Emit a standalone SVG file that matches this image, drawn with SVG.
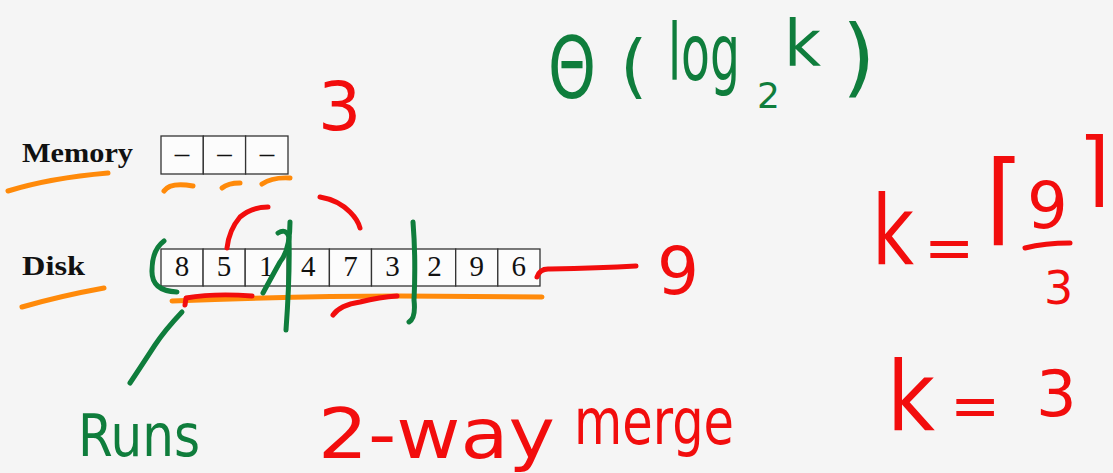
<svg xmlns="http://www.w3.org/2000/svg" width="1113" height="473" viewBox="0 0 1113 473">
  <style>
    .label { font-family: "Liberation Serif", "DejaVu Serif", serif; font-weight: bold; font-size: 28px; fill: #111; }
    .cell { fill: #fcfcfc; stroke: #333; stroke-width: 1.3; }
    .digit { font-family: "Liberation Serif", "DejaVu Serif", serif; font-size: 29px; fill: #111; text-anchor: middle; }
    .ink { fill: none; stroke-width: 5; stroke-linecap: round; stroke-linejoin: round; }
    .green { stroke: #0f7d3c; }
    .red { stroke: #f20d0d; }
    .orange { stroke: #ff8a0a; }
    .hand { font-family: "DejaVu Sans", "Liberation Sans", sans-serif; }
    .hg { fill: #0f7d3c; }
    .hr { fill: #f20d0d; }
  </style>
  <rect width="1113" height="473" fill="#f5f5f5"/>

  <!-- memory buffer -->
  <g id="memory">
    <text class="label" x="22" y="162" textLength="111" lengthAdjust="spacingAndGlyphs">Memory</text>
    <rect class="cell" x="161" y="136" width="42.3" height="38"/>
    <rect class="cell" x="203.3" y="136" width="42.3" height="38"/>
    <rect class="cell" x="245.6" y="136" width="42.4" height="38"/>
    <text class="digit" x="182" y="163">–</text>
    <text class="digit" x="224.5" y="163">–</text>
    <text class="digit" x="267" y="163">–</text>
  </g>

  <!-- disk contents -->
  <g id="disk">
    <text class="label" x="22" y="275" textLength="63" lengthAdjust="spacingAndGlyphs">Disk</text>
    <rect class="cell" x="161" y="249" width="42.1" height="37"/>
    <rect class="cell" x="203.1" y="249" width="42.1" height="37"/>
    <rect class="cell" x="245.2" y="249" width="42.1" height="37"/>
    <rect class="cell" x="287.3" y="249" width="42.1" height="37"/>
    <rect class="cell" x="329.4" y="249" width="42.1" height="37"/>
    <rect class="cell" x="371.5" y="249" width="42.1" height="37"/>
    <rect class="cell" x="413.6" y="249" width="42.1" height="37"/>
    <rect class="cell" x="455.7" y="249" width="42.1" height="37"/>
    <rect class="cell" x="497.8" y="249" width="42.2" height="37"/>
    <text class="digit" x="182" y="276">8</text>
    <text class="digit" x="224.1" y="276">5</text>
    <text class="digit" x="266.2" y="276">1</text>
    <text class="digit" x="308.3" y="276">4</text>
    <text class="digit" x="350.4" y="276">7</text>
    <text class="digit" x="392.5" y="276">3</text>
    <text class="digit" x="434.6" y="276">2</text>
    <text class="digit" x="476.7" y="276">9</text>
    <text class="digit" x="518.8" y="276">6</text>
  </g>

  <!-- pen strokes: underlines, run brackets, merge arcs -->
  <g id="connectors">
    <!-- orange underlines -->
    <path class="ink orange" d="M8 191 Q50 178 108 173"/>
    <path class="ink orange" d="M22 307 Q60 296 104 288"/>
    <path class="ink orange" d="M164 191 Q170 182 193 186"/>
    <path class="ink orange" d="M222 188 Q228 183 240 183"/>
    <path class="ink orange" d="M262 184 Q272 177 290 178"/>
    <path class="ink orange" d="M172 301 Q300 296 400 296 L542 297"/>
    <!-- green run brackets -->
    <path class="ink green" d="M164 241 Q152 250 152 270 Q151 291 177 292"/>
    <path class="ink green" d="M278 233 Q286 228 289 237 Q290 275 286 330"/>
    <path class="ink green" d="M290 222 Q290 250 280 262 Q270 280 263 293"/>
    <path class="ink green" d="M413 222 Q416 260 414 300 Q416 318 409 322"/>
    <path class="ink green" d="M182 312 Q165 330 155 345 Q140 368 130 383"/>
    <!-- red merge marks -->
    <path class="ink red" d="M227 248 Q229 230 240 217 Q252 207 268 207"/>
    <path class="ink red" d="M320 197 Q338 200 350 212 Q358 220 360 228"/>
    <path class="ink red" d="M185 305 L186 298 Q215 293 252 296"/>
    <path class="ink red" d="M333 315 Q340 305 360 302 Q380 297 397 296"/>
    <path class="ink red" d="M537 277 Q540 268 550 269 Q600 268 636 266"/>
    <path class="ink red" d="M1025 248 Q1045 243 1070 243"/>
  </g>

  <!-- handwritten notes -->
  <g id="notes" class="hand">
    <text class="hg" x="548" y="98" font-size="86" textLength="48" lengthAdjust="spacingAndGlyphs">Θ</text>
    <text class="hg" x="620" y="90" font-size="70">(</text>
    <text class="hg" x="668" y="80" font-size="78" textLength="72" lengthAdjust="spacingAndGlyphs">log</text>
    <text class="hg" x="757" y="108" font-size="36">2</text>
    <text class="hg" x="784" y="66" font-size="64">k</text>
    <text class="hg" x="842" y="86" font-size="86">)</text>

    <text class="hr" x="318" y="130" font-size="68">3</text>
    <text class="hr" x="657" y="294" font-size="66">9</text>

    <text class="hr" x="872" y="264" font-size="96" textLength="42" lengthAdjust="spacingAndGlyphs">k</text>
    <text class="hr" x="924" y="268" font-size="60">=</text>
    <text class="hr" x="985" y="232" font-size="100">⌈</text>
    <text class="hr" x="1027" y="228" font-size="64">9</text>
    <text class="hr" x="1044" y="304" font-size="46">3</text>
    <text class="hr" x="1078" y="196" font-size="82">⌉</text>

    <text class="hr" x="887" y="430" font-size="96" textLength="48" lengthAdjust="spacingAndGlyphs">k</text>
    <text class="hr" x="950" y="426" font-size="60">=</text>
    <text class="hr" x="1036" y="416" font-size="64">3</text>

    <text class="hg" x="78" y="456" font-size="58" textLength="122" lengthAdjust="spacingAndGlyphs">Runs</text>
    <text class="hr" x="318" y="458" font-size="70" textLength="237" lengthAdjust="spacingAndGlyphs">2-way</text>
    <text class="hr" x="574" y="444" font-size="64" textLength="160" lengthAdjust="spacingAndGlyphs">merge</text>
  </g>
</svg>
